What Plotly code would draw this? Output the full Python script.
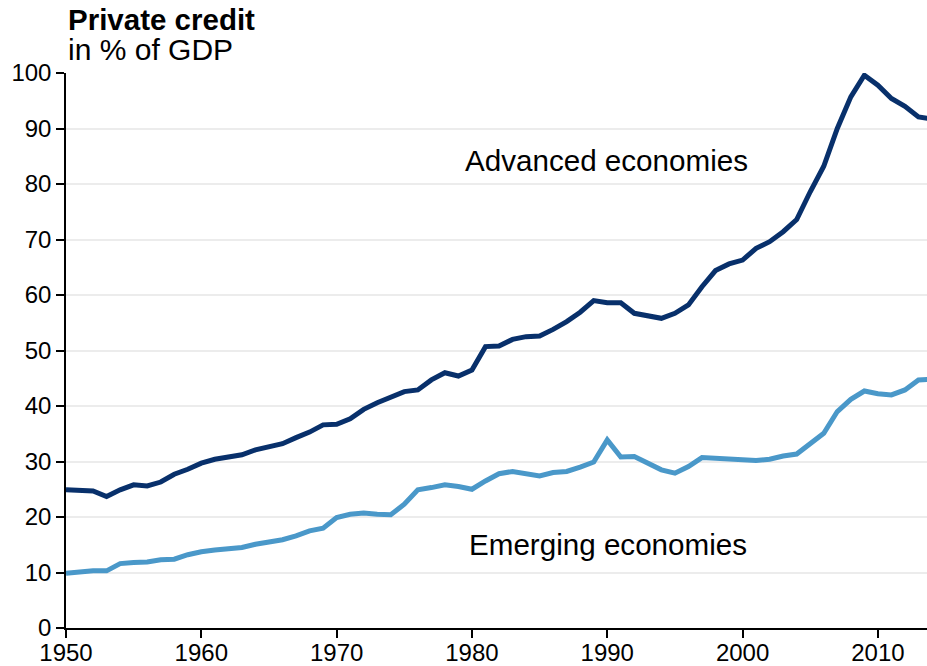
import plotly.graph_objects as go

years = list(range(1950, 2015))
advanced = [24.9, 24.9, 24.7, 23.7, 24.9, 25.8, 25.6, 26.3, 27.7, 28.6,
            29.7, 30.4, 30.8, 31.2, 32.1, 32.7, 33.2, 34.3, 35.3, 36.6,
            36.7, 37.7, 39.4, 40.6, 41.6, 42.6, 42.9, 44.7, 46.0, 45.4,
            46.5, 50.7, 50.8, 52.0, 52.5, 52.6, 53.8, 55.2, 56.9, 59.0,
            58.6, 58.6, 56.7, 56.2, 55.8, 56.7, 58.2, 61.5, 64.4, 65.6,
            66.3, 68.4, 69.6, 71.4, 73.6, 78.6, 83.2, 90.0, 95.7, 99.6,
            97.8, 95.4, 94.0, 92.1, 91.7]
emerging = [9.85, 10.1, 10.3, 10.3, 11.6, 11.8, 11.9, 12.3, 12.4, 13.2,
            13.75, 14.05, 14.2, 14.5, 15.1, 15.4, 15.9, 16.6, 17.5, 18.0,
            19.9, 20.5, 20.7, 20.5, 20.4, 22.3, 24.9, 25.3, 25.8, 25.5,
            25.0, 26.5, 27.8, 28.2, 27.7, 27.4, 28.0, 28.2, 29.0, 29.9,
            33.9, 30.8, 30.9, 29.7, 28.5, 27.9, 29.1, 30.7, 30.6, 30.6,
            30.4, 30.2, 30.4, 31.0, 31.35, 33.2, 35.1, 39.0, 41.2, 42.7,
            42.2, 42.0, 42.9, 44.7, 44.8]
x_ticks = [1950, 1960, 1970, 1980, 1990, 2000, 2010]
y_ticks = [0, 10, 20, 30, 40, 50, 60, 70, 80, 90, 100]

FONT = "Liberation Sans, Arial, Helvetica, sans-serif"

fig = go.Figure()
fig.add_trace(go.Scatter(x=years, y=advanced, mode="lines", name="Advanced economies",
                         line=dict(color="#08306b", width=5), showlegend=False))
fig.add_trace(go.Scatter(x=years, y=emerging, mode="lines", name="Emerging economies",
                         line=dict(color="#4a98c9", width=5), showlegend=False))

fig.update_layout(
    width=927, height=666,
    margin=dict(l=66, r=0, t=73, b=38, autoexpand=False),
    paper_bgcolor="white", plot_bgcolor="white",
    font=dict(family=FONT, color="black", size=24),
    xaxis=dict(range=[1950, 2013.63], tickvals=x_ticks, ticks="outside", ticklen=8,
               tickcolor="black", tickwidth=1.5, showline=True, linecolor="black", linewidth=1.5,
               showgrid=False, zeroline=False, tickfont=dict(size=24), automargin=False,
               ticklabelstandoff=-6),
    yaxis=dict(range=[0, 100], tickvals=y_ticks, ticks="outside", ticklen=8,
               tickcolor="black", tickwidth=1.5, showline=True, linecolor="black", linewidth=1.5,
               showgrid=True, gridcolor="#ececec", gridwidth=1.5, zeroline=False,
               tickfont=dict(size=24), automargin=False),
    annotations=[
        dict(text="<b>Private credit</b>", xref="paper", yref="paper", x=0, y=1.096,
             xanchor="left", yanchor="middle", showarrow=False, font=dict(size=29.5)),
        dict(text="in % of GDP", xref="paper", yref="paper", x=0, y=1.042,
             xanchor="left", yanchor="middle", showarrow=False, font=dict(size=30)),
        dict(text="Advanced economies", x=1989.95, y=84.2, xanchor="center", yanchor="middle",
             showarrow=False, font=dict(size=29.6)),
        dict(text="Emerging economies", x=1990.06, y=15.05, xanchor="center", yanchor="middle",
             showarrow=False, font=dict(size=29.6)),
    ],
)

# remove the default page margin so the figure fills the 927x666 window exactly
fig.write_html(
    "out.html",
    config={"displayModeBar": False},
    post_script="document.body.style.margin='0';document.documentElement.style.overflow='hidden';document.body.style.overflow='hidden';",
)
